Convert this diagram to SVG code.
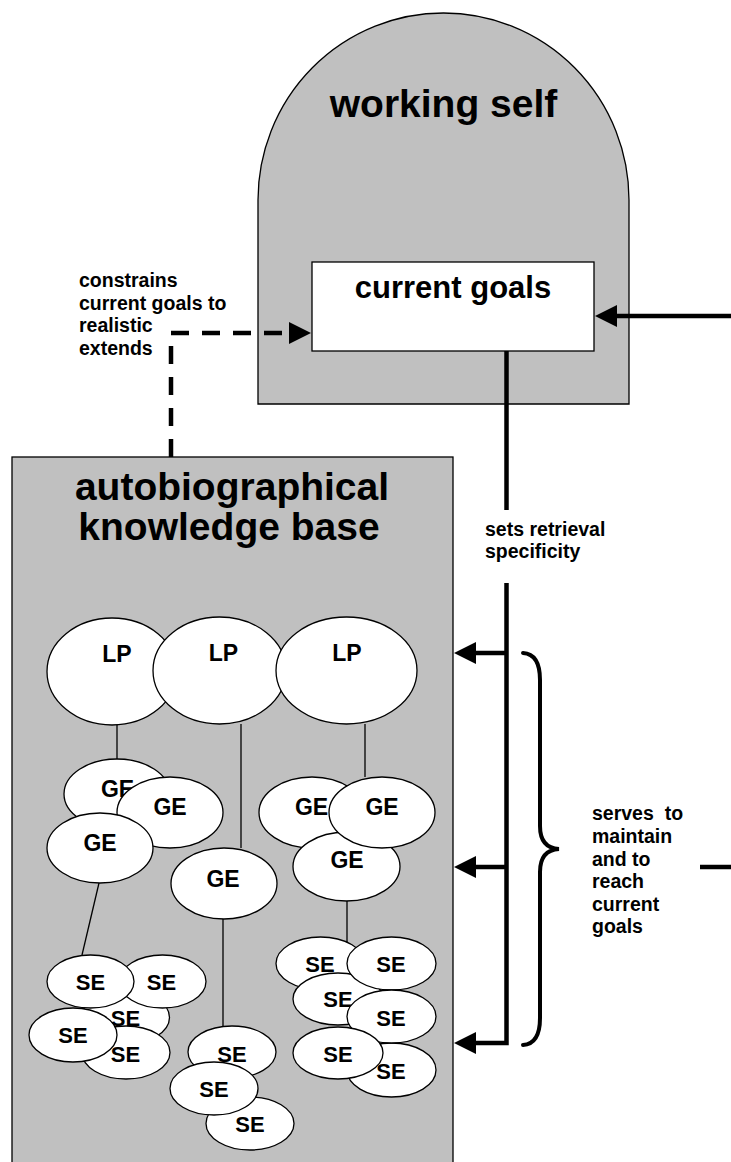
<svg xmlns="http://www.w3.org/2000/svg" width="731" height="1162" viewBox="0 0 731 1162">
  <style>
    .panel { fill: #c0c0c0; stroke: #000; stroke-width: 1.3; }
    .box { fill: #fff; stroke: #000; stroke-width: 1.3; }
    .node { fill: #fff; stroke: #000; stroke-width: 1.3; }
    .link { stroke: #000; stroke-width: 1.3; fill: none; }
    .thick { stroke: #000; stroke-width: 4.5; fill: none; }
    .dash { stroke: #000; stroke-width: 4.5; fill: none; stroke-dasharray: 18 13; }
    .brace { stroke: #000; stroke-width: 4; fill: none; stroke-linecap: round; }
    text { font-family: "Liberation Sans", Arial, sans-serif; font-weight: bold; fill: #000; }
    .title { font-size: 39px; text-anchor: middle; }
    .sub { font-size: 31px; text-anchor: middle; }
    .lbl { font-size: 23px; text-anchor: middle; }
    .se { font-size: 22px; text-anchor: middle; }
    .note { font-size: 19.5px; }
  </style>
  <defs>
    <marker id="head" markerUnits="userSpaceOnUse" markerWidth="22" markerHeight="22" refX="0" refY="11" orient="auto" overflow="visible">
      <path d="M0,0 L22,11 L0,22 Z" fill="#000"/>
    </marker>
  </defs>

  <rect width="731" height="1162" fill="#fff"/>

  <!-- working self (arched panel) -->
  <g id="working-self">
    <path class="panel" d="M258,404 L258,200 A185.5,187 0 0 1 629,200 L629,404 Z"/>
    <text class="title" x="443.5" y="117">working self</text>
  </g>

  <g id="current-goals">
    <rect class="box" x="312" y="262" width="282" height="89"/>
    <text class="sub" x="453" y="298">current goals</text>
  </g>

  <!-- autobiographical knowledge base panel -->
  <g id="knowledge-base">
    <rect class="panel" x="12" y="457" width="441" height="720"/>
    <text class="title" x="232" y="500">autobiographical</text>
    <text class="title" x="229" y="540">knowledge base</text>
  </g>

  <!-- connectors -->
  <g id="connectors">
    <path class="dash" d="M171,457 V333 H289" marker-end="url(#head)"/>
    <path class="thick" d="M731,316 H617" marker-end="url(#head)"/>
    <path class="thick" d="M506.5,351 V510"/>
    <path class="thick" d="M506.5,583 V1043 H476" marker-end="url(#head)"/>
    <path class="thick" d="M506.5,653 H476" marker-end="url(#head)"/>
    <path class="thick" d="M506.5,867 H476" marker-end="url(#head)"/>
    <path class="thick" d="M700,867 H731"/>
    <path class="brace" d="M523,653 Q540,654 540,680 L540,826 Q540,848 559,849 Q540,850 540,872 L540,1018 Q540,1044 523,1045"/>

    <!-- hierarchy links -->
    <line class="link" x1="117" y1="725" x2="117" y2="759"/>
    <line class="link" x1="241" y1="724" x2="241" y2="848"/>
    <line class="link" x1="365" y1="724" x2="365" y2="777"/>
    <line class="link" x1="99" y1="883" x2="82" y2="955"/>
    <line class="link" x1="223" y1="919" x2="223" y2="1026"/>
    <line class="link" x1="347" y1="901" x2="347" y2="943"/>
  </g>

  <!-- connector labels -->
  <g id="labels">
    <text class="note" x="79" y="287">constrains</text>
    <text class="note" x="79" y="309.5">current goals to</text>
    <text class="note" x="79" y="332">realistic</text>
    <text class="note" x="79" y="354.5">extends</text>
    <text class="note" x="485" y="536">sets retrieval</text>
    <text class="note" x="485" y="558">specificity</text>
    <text class="note" x="592" y="820" xml:space="preserve">serves  to</text>
    <text class="note" x="592" y="843">maintain</text>
    <text class="note" x="592" y="866">and to</text>
    <text class="note" x="592" y="888">reach</text>
    <text class="note" x="592" y="911">current</text>
    <text class="note" x="592" y="933">goals</text>
  </g>

  <!-- lifetime periods -->
  <g id="lp-1"><ellipse class="node" cx="112" cy="671.5" rx="65" ry="53.5"/><text class="lbl" x="117" y="662">LP</text></g>
  <g id="lp-2"><ellipse class="node" cx="219.5" cy="670.5" rx="66.5" ry="53.5"/><text class="lbl" x="223.5" y="661">LP</text></g>
  <g id="lp-3"><ellipse class="node" cx="346.5" cy="670.5" rx="70.5" ry="53.5"/><text class="lbl" x="347" y="661">LP</text></g>

  <!-- general events -->
  <g id="ge-1"><ellipse class="node" cx="117" cy="794" rx="53" ry="35"/><text class="lbl" x="117.5" y="797">GE</text></g>
  <g id="ge-2"><ellipse class="node" cx="170" cy="812.5" rx="53" ry="35.5"/><text class="lbl" x="170" y="815">GE</text></g>
  <g id="ge-3"><ellipse class="node" cx="100" cy="848" rx="53" ry="35"/><text class="lbl" x="100" y="851">GE</text></g>
  <g id="ge-4"><ellipse class="node" cx="224" cy="883.5" rx="53" ry="35.5"/><text class="lbl" x="223" y="887">GE</text></g>
  <g id="ge-5"><ellipse class="node" cx="312" cy="812.5" rx="53" ry="35.5"/><text class="lbl" x="311.5" y="815">GE</text></g>
  <g id="ge-7"><ellipse class="node" cx="346.5" cy="866.5" rx="53.5" ry="34.5"/><text class="lbl" x="347" y="868">GE</text></g>
  <g id="ge-6"><ellipse class="node" cx="382" cy="812.5" rx="53" ry="35.5"/><text class="lbl" x="382" y="815">GE</text></g>

  <!-- specific events: left cluster -->
  <g id="se-c"><ellipse class="node" cx="125.5" cy="1017.5" rx="44" ry="26.5"/><text class="se" x="125.5" y="1026">SE</text></g>
  <g id="se-e"><ellipse class="node" cx="126" cy="1052.5" rx="44" ry="26.5"/><text class="se" x="125.5" y="1062">SE</text></g>
  <g id="se-b"><ellipse class="node" cx="162.5" cy="981.5" rx="43.5" ry="26.5"/><text class="se" x="161.5" y="990">SE</text></g>
  <g id="se-a"><ellipse class="node" cx="90.5" cy="981.5" rx="43.5" ry="26.5"/><text class="se" x="90.5" y="990">SE</text></g>
  <g id="se-d"><ellipse class="node" cx="73" cy="1035" rx="44" ry="27"/><text class="se" x="73" y="1043">SE</text></g>

  <!-- specific events: middle cluster -->
  <g id="se-f"><ellipse class="node" cx="232" cy="1052" rx="44" ry="26"/><text class="se" x="232" y="1062">SE</text></g>
  <g id="se-h"><ellipse class="node" cx="250" cy="1123.5" rx="44" ry="26.5"/><text class="se" x="250" y="1132">SE</text></g>
  <g id="se-g"><ellipse class="node" cx="214" cy="1088.5" rx="44" ry="26.5"/><text class="se" x="214" y="1097">SE</text></g>

  <!-- specific events: right cluster -->
  <g id="se-i"><ellipse class="node" cx="320.5" cy="963.5" rx="44.5" ry="26.5"/><text class="se" x="320" y="972">SE</text></g>
  <g id="se-k"><ellipse class="node" cx="338" cy="999" rx="45" ry="26"/><text class="se" x="338" y="1007">SE</text></g>
  <g id="se-j"><ellipse class="node" cx="391.5" cy="963.5" rx="44.5" ry="26.5"/><text class="se" x="391" y="972">SE</text></g>
  <g id="se-n"><ellipse class="node" cx="391.5" cy="1070" rx="44.5" ry="27"/><text class="se" x="391" y="1079">SE</text></g>
  <g id="se-l"><ellipse class="node" cx="391.5" cy="1016.5" rx="44.5" ry="26.5"/><text class="se" x="391" y="1026">SE</text></g>
  <g id="se-m"><ellipse class="node" cx="338" cy="1053" rx="45" ry="26"/><text class="se" x="338" y="1062">SE</text></g>
</svg>
